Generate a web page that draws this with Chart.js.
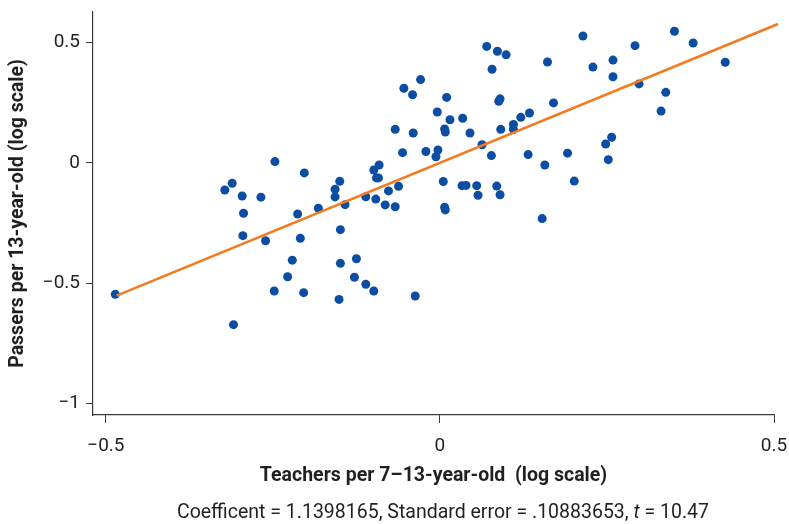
<!DOCTYPE html>
<html lang="en">
<head>
  <meta charset="UTF-8" />
  <title>Teachers vs passers</title>
  <script src="https://cdn.jsdelivr.net/npm/chart.js"></script>
  <style>
    body {
      margin: 0;
      background: #fff;
    }
    #chart {
      display: block;
    }
  </style>
</head>
<body>
<canvas id="chart" width="789" height="524"></canvas>

<script>
// scatter values (log scale)
const dotX = [
  -0.486, -0.309, -0.322, -0.311, -0.296, -0.268, -0.247, -0.294, -0.295, -0.261,
  -0.213, -0.203, -0.182, -0.209, -0.221, -0.228, -0.248, -0.204, -0.157, -0.150,
  -0.157, -0.142, -0.149, -0.149, -0.151, -0.125, -0.128, -0.111, -0.099, -0.111,
  -0.096, -0.099, -0.091, -0.095, -0.092, -0.077, -0.082, -0.067, -0.062, -0.037,
  -0.067, -0.056, -0.054, -0.041, -0.029, -0.040, -0.021, -0.004, -0.003, -0.006,
   0.005,  0.007,  0.008,  0.010,  0.007,  0.008,  0.015,  0.034,  0.045,  0.033,
   0.039,  0.055,  0.057,  0.063,  0.070,  0.086,  0.099,  0.078,  0.077,  0.085,
   0.090,  0.090,  0.088,  0.091,  0.110,  0.110,  0.121,  0.134,  0.132,  0.157,
   0.153,  0.161,  0.170,  0.191,  0.201,  0.214,  0.229,  0.248,  0.257,  0.252,
   0.259,  0.259,  0.292,  0.298,  0.331,  0.338,  0.351,  0.379,  0.427,  0.509
];
const dotY = [
  -0.547, -0.673, -0.113, -0.085, -0.138, -0.143,  0.005, -0.210, -0.303, -0.324,
  -0.213, -0.042, -0.189, -0.314, -0.405, -0.474, -0.533, -0.540, -0.110, -0.077,
  -0.142, -0.174, -0.278, -0.418, -0.568, -0.399, -0.476, -0.505, -0.533, -0.141,
  -0.151, -0.030, -0.009, -0.063, -0.063, -0.117, -0.175, -0.183, -0.098, -0.554,
   0.139,  0.042,  0.310,  0.283,  0.346,  0.124,  0.047,  0.211,  0.053,  0.025,
  -0.078, -0.185, -0.196,  0.272,  0.141,  0.128,  0.179,  0.185,  0.124, -0.095,
  -0.094, -0.095, -0.135,  0.075,  0.484,  0.464,  0.449,  0.389,  0.030, -0.097,
  -0.133,  0.266,  0.256,  0.139,  0.159,  0.139,  0.189,  0.207,  0.034, -0.009,
  -0.232,  0.419,  0.249,  0.040, -0.076,  0.527,  0.398,  0.078,  0.106,  0.013,
   0.427,  0.358,  0.487,  0.328,  0.215,  0.293,  0.547,  0.498,  0.418,  0.584
];

// fitted line end points
const fitX = [-0.484, 0.506];
const fitY = [-0.552, 0.577];

const xTicks = [-0.5, 0, 0.5];
const yTicks = [-1, -0.5, 0, 0.5];

const xTitle = "Teachers per 7\u201313-year-old  (log scale)";
const yTitle = "Passers per 13-year-old (log scale)";
const noteParts = [
  { text: "Coefficent = 1.1398165, Standard error = .10883653, ", italic: false },
  { text: "t", italic: true },
  { text: " = 10.47", italic: false }
];

const FONT = "Roboto";
const INK = "#231f20";
const AXIS = "#3a3a3a";

function tickText(v) {
  if (v < 0) return "\u2212" + Math.abs(v);
  return String(v);
}

const footnote = {
  id: "footnote",
  afterDraw(chart) {
    const ctx = chart.ctx;
    ctx.save();
    ctx.fillStyle = INK;
    ctx.textBaseline = "middle";
    ctx.textAlign = "left";
    const fontFor = p => (p.italic ? "italic " : "") + "19.5px " + FONT;
    let total = 0;
    noteParts.forEach(p => { ctx.font = fontFor(p); total += ctx.measureText(p.text).width; });
    let x = 443 - total / 2;
    noteParts.forEach(p => {
      ctx.font = fontFor(p);
      ctx.fillText(p.text, x, 513);
      x += ctx.measureText(p.text).width;
    });
    ctx.restore();
  }
};

const ctx = document.getElementById("chart").getContext("2d");
new Chart(ctx, {
  data: {
    datasets: [
      {
        type: "line",
        data: fitX.map((x, i) => ({ x: x, y: fitY[i] })),
        borderColor: "#f47a20",
        borderWidth: 2.5,
        pointRadius: 0,
        clip: false
      },
      {
        type: "scatter",
        data: dotX.map((x, i) => ({ x: x, y: dotY[i] })),
        backgroundColor: "#0a4da2",
        borderWidth: 0,
        pointRadius: 4.5,
        clip: false
      }
    ]
  },
  options: {
    responsive: false,
    animation: false,
    layout: { padding: { top: 12, right: 15, left: 0, bottom: 0 } },
    plugins: {
      legend: { display: false },
      tooltip: { enabled: false }
    },
    scales: {
      x: {
        type: "linear",
        min: -0.5193,
        max: 0.5,
        afterBuildTicks: s => { s.ticks = xTicks.map(v => ({ value: v })); },
        afterFit: s => {
          s.height = 109;
          s.paddingLeft = 0;
          s.paddingRight = 0;
        },
        grid: { drawOnChartArea: false, drawTicks: true, tickLength: 8, color: AXIS },
        border: { color: AXIS, width: 1.2 },
        ticks: {
          color: INK,
          font: { family: FONT, size: 19 },
          padding: 12,
          maxRotation: 0,
          callback: v => tickText(v)
        },
        title: {
          display: true,
          text: xTitle,
          color: INK,
          font: { family: FONT, size: 19.5, weight: "bold" },
          padding: { top: 0, bottom: 36 }
        }
      },
      y: {
        type: "linear",
        min: -1.0487,
        max: 0.627,
        afterBuildTicks: s => { s.ticks = yTicks.map(v => ({ value: v })); },
        afterFit: s => {
          s.width = 93;
          s.paddingTop = 0;
          s.paddingBottom = 0;
        },
        grid: { drawOnChartArea: false, drawTicks: true, tickLength: 7, color: AXIS },
        border: { color: AXIS, width: 1.2 },
        ticks: {
          color: INK,
          font: { family: FONT, size: 19 },
          padding: 6,
          callback: v => tickText(v)
        },
        title: {
          display: true,
          text: yTitle,
          color: INK,
          font: { family: FONT, size: 19.5, weight: "bold" },
          padding: { top: 6, bottom: 0 }
        }
      }
    }
  },
  plugins: [footnote]
});
</script>
</body>
</html>
